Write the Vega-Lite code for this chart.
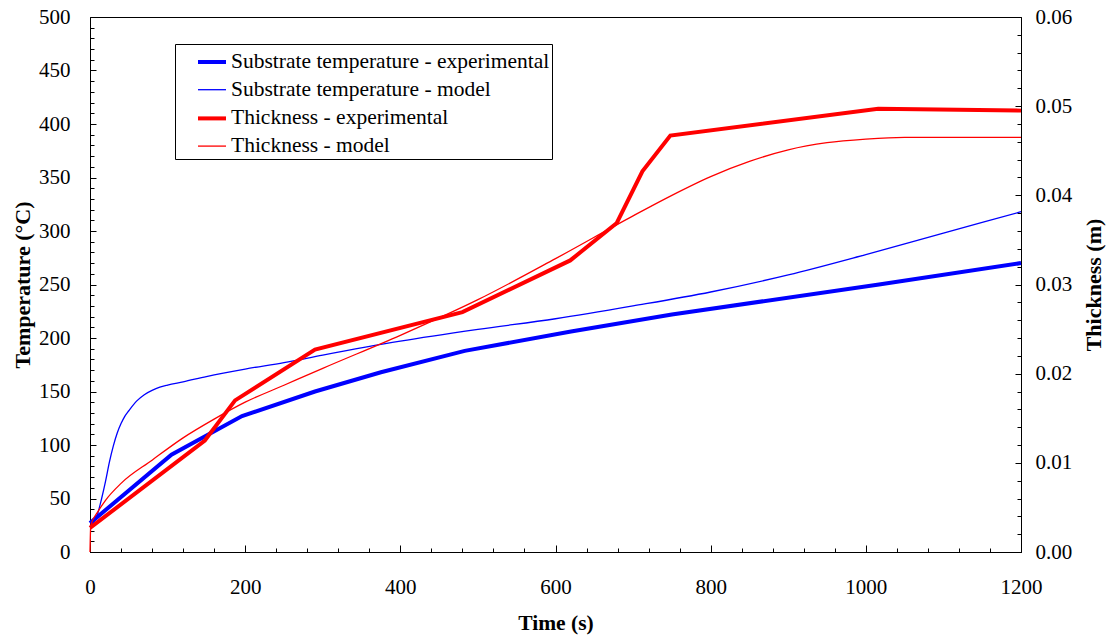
{
  "$schema": "https://vega.github.io/schema/vega-lite/v6.json",
  "width": 931,
  "height": 535,
  "autosize": {"type": "none"},
  "padding": {"left": 90, "top": 17, "right": 89, "bottom": 85},
  "background": "white",
  "config": {
    "font": "Liberation Serif",
    "view": {"stroke": "black", "strokeWidth": 1},
    "axis": {
      "grid": false,
      "domainColor": "black",
      "tickColor": "black",
      "labelColor": "black",
      "titleColor": "black",
      "labelFont": "Liberation Serif",
      "titleFont": "Liberation Serif",
      "labelFontSize": 21,
      "titleFontSize": 22,
      "titleFontWeight": "bold",
      "labelOverlap": false,
      "labelFlush": false
    },
    "legend": {"labelFont": "Liberation Serif"}
  },
  "datasets": {
    "tempExp": [
      {"series": "Substrate temperature - experimental", "t": 0, "v": 27},
      {"series": "Substrate temperature - experimental", "t": 105, "v": 91},
      {"series": "Substrate temperature - experimental", "t": 196, "v": 127},
      {"series": "Substrate temperature - experimental", "t": 290, "v": 150},
      {"series": "Substrate temperature - experimental", "t": 375, "v": 168},
      {"series": "Substrate temperature - experimental", "t": 483, "v": 188},
      {"series": "Substrate temperature - experimental", "t": 620, "v": 206},
      {"series": "Substrate temperature - experimental", "t": 750, "v": 222},
      {"series": "Substrate temperature - experimental", "t": 1017, "v": 250},
      {"series": "Substrate temperature - experimental", "t": 1200, "v": 270}
    ],
    "tempModel": [
      {"series": "Substrate temperature - model", "t": 0, "v": 24},
      {"series": "Substrate temperature - model", "t": 5, "v": 28},
      {"series": "Substrate temperature - model", "t": 10, "v": 36},
      {"series": "Substrate temperature - model", "t": 15, "v": 50},
      {"series": "Substrate temperature - model", "t": 20, "v": 66},
      {"series": "Substrate temperature - model", "t": 25, "v": 84},
      {"series": "Substrate temperature - model", "t": 30, "v": 99},
      {"series": "Substrate temperature - model", "t": 35, "v": 111},
      {"series": "Substrate temperature - model", "t": 40, "v": 120},
      {"series": "Substrate temperature - model", "t": 45, "v": 127},
      {"series": "Substrate temperature - model", "t": 50, "v": 132},
      {"series": "Substrate temperature - model", "t": 60, "v": 141},
      {"series": "Substrate temperature - model", "t": 70, "v": 147},
      {"series": "Substrate temperature - model", "t": 80, "v": 151},
      {"series": "Substrate temperature - model", "t": 90, "v": 154},
      {"series": "Substrate temperature - model", "t": 100, "v": 156},
      {"series": "Substrate temperature - model", "t": 120, "v": 159},
      {"series": "Substrate temperature - model", "t": 150, "v": 164},
      {"series": "Substrate temperature - model", "t": 200, "v": 171},
      {"series": "Substrate temperature - model", "t": 250, "v": 177},
      {"series": "Substrate temperature - model", "t": 300, "v": 184},
      {"series": "Substrate temperature - model", "t": 400, "v": 197},
      {"series": "Substrate temperature - model", "t": 500, "v": 208},
      {"series": "Substrate temperature - model", "t": 600, "v": 218},
      {"series": "Substrate temperature - model", "t": 700, "v": 230},
      {"series": "Substrate temperature - model", "t": 800, "v": 243},
      {"series": "Substrate temperature - model", "t": 900, "v": 259},
      {"series": "Substrate temperature - model", "t": 1000, "v": 278},
      {"series": "Substrate temperature - model", "t": 1100, "v": 298},
      {"series": "Substrate temperature - model", "t": 1200, "v": 318}
    ],
    "thickExp": [
      {"series": "Thickness - experimental", "t": 0, "v": 0.0027},
      {"series": "Thickness - experimental", "t": 148, "v": 0.0125},
      {"series": "Thickness - experimental", "t": 187, "v": 0.0170},
      {"series": "Thickness - experimental", "t": 290, "v": 0.0227},
      {"series": "Thickness - experimental", "t": 480, "v": 0.0269},
      {"series": "Thickness - experimental", "t": 619, "v": 0.0327},
      {"series": "Thickness - experimental", "t": 679, "v": 0.0369},
      {"series": "Thickness - experimental", "t": 712, "v": 0.0427},
      {"series": "Thickness - experimental", "t": 748, "v": 0.0467},
      {"series": "Thickness - experimental", "t": 1016, "v": 0.0497},
      {"series": "Thickness - experimental", "t": 1200, "v": 0.0495}
    ],
    "thickModel": [
      {"series": "Thickness - model", "t": 0, "v": 0},
      {"series": "Thickness - model", "t": 1, "v": 0.003},
      {"series": "Thickness - model", "t": 10, "v": 0.0045},
      {"series": "Thickness - model", "t": 20, "v": 0.0058},
      {"series": "Thickness - model", "t": 40, "v": 0.0077},
      {"series": "Thickness - model", "t": 80, "v": 0.0103},
      {"series": "Thickness - model", "t": 120, "v": 0.0128},
      {"series": "Thickness - model", "t": 160, "v": 0.0149},
      {"series": "Thickness - model", "t": 200, "v": 0.0168},
      {"series": "Thickness - model", "t": 250, "v": 0.0187},
      {"series": "Thickness - model", "t": 300, "v": 0.0206},
      {"series": "Thickness - model", "t": 400, "v": 0.0243},
      {"series": "Thickness - model", "t": 500, "v": 0.0283},
      {"series": "Thickness - model", "t": 600, "v": 0.0329},
      {"series": "Thickness - model", "t": 700, "v": 0.0377},
      {"series": "Thickness - model", "t": 750, "v": 0.0400},
      {"series": "Thickness - model", "t": 800, "v": 0.0421},
      {"series": "Thickness - model", "t": 850, "v": 0.0438},
      {"series": "Thickness - model", "t": 900, "v": 0.0451},
      {"series": "Thickness - model", "t": 950, "v": 0.0459},
      {"series": "Thickness - model", "t": 1000, "v": 0.0463},
      {"series": "Thickness - model", "t": 1050, "v": 0.0465},
      {"series": "Thickness - model", "t": 1100, "v": 0.0465},
      {"series": "Thickness - model", "t": 1200, "v": 0.0465}
    ]
  },
  "encoding": {
    "x": {
      "field": "t",
      "type": "quantitative",
      "scale": {"domain": [0, 1200], "nice": false, "zero": true},
      "axis": {
        "title": "Time (s)",
        "titleFontSize": 21.5,
        "format": "d",
        "values": [0, 40, 80, 120, 160, 200, 240, 280, 320, 360, 400, 440, 480, 520, 560, 600, 640, 680, 720, 760, 800, 840, 880, 920, 960, 1000, 1040, 1080, 1120, 1160, 1200],
        "labelExpr": "datum.value % 200 === 0 ? datum.label : ''",
        "tickSize": {"condition": {"test": "datum.value % 200 === 0", "value": -7}, "value": -4},
        "labelPadding": 31,
        "titlePadding": 12
      }
    },
    "color": {
      "field": "series",
      "type": "nominal",
      "scale": {
        "domain": ["Substrate temperature - experimental", "Substrate temperature - model", "Thickness - experimental", "Thickness - model"],
        "range": ["#0000ff", "#0000ff", "#ff0000", "#ff0000"]
      },
      "legend": {
        "title": null,
        "orient": "none",
        "legendX": 85,
        "legendY": 27,
        "strokeColor": "black",
        "fillColor": "white",
        "padding": 2,
        "symbolType": "stroke",
        "symbolSize": 784,
        "symbolOffset": 19,
        "labelFont": "Liberation Serif",
        "labelFontSize": 21.5,
        "labelColor": "black",
        "labelLimit": 500,
        "labelOffset": 3,
        "rowPadding": 1.7,
        "cornerRadius": 0
      }
    },
    "strokeWidth": {
      "field": "series",
      "type": "nominal",
      "scale": {
        "type": "ordinal",
        "domain": ["Substrate temperature - experimental", "Substrate temperature - model", "Thickness - experimental", "Thickness - model"],
        "range": [4, 1.3, 4, 1.3]
      },
      "legend": {
        "title": null,
        "orient": "none",
        "legendX": 85,
        "legendY": 27,
        "strokeColor": "black",
        "fillColor": "white",
        "padding": 2,
        "symbolType": "stroke",
        "symbolSize": 784,
        "symbolOffset": 19,
        "labelFont": "Liberation Serif",
        "labelFontSize": 21.5,
        "labelColor": "black",
        "labelLimit": 500,
        "labelOffset": 3,
        "rowPadding": 1.7,
        "cornerRadius": 0
      }
    }
  },
  "layer": [
    {
      "encoding": {
        "y": {
          "field": "v",
          "type": "quantitative",
          "scale": {"domain": [0, 500], "nice": false},
          "axis": {
            "title": "Temperature (°C)",
            "orient": "left",
            "values": [0, 10, 20, 30, 40, 50, 60, 70, 80, 90, 100, 110, 120, 130, 140, 150, 160, 170, 180, 190, 200, 210, 220, 230, 240, 250, 260, 270, 280, 290, 300, 310, 320, 330, 340, 350, 360, 370, 380, 390, 400, 410, 420, 430, 440, 450, 460, 470, 480, 490, 500],
            "labelExpr": "datum.value % 50 === 0 ? datum.label : ''",
            "tickSize": {"condition": {"test": "datum.value % 50 === 0", "value": -6}, "value": -4},
            "labelPadding": 26,
            "titlePadding": 4
          }
        }
      },
      "layer": [
        {"data": {"name": "tempExp"}, "mark": {"type": "line"}},
        {"data": {"name": "tempModel"}, "mark": {"type": "line", "interpolate": "monotone"}}
      ]
    },
    {
      "encoding": {
        "y": {
          "field": "v",
          "type": "quantitative",
          "scale": {"domain": [0, 0.06], "nice": false},
          "axis": {
            "title": "Thickness (m)",
            "orient": "right",
            "values": [0, 0.002, 0.004, 0.006, 0.008, 0.01, 0.012, 0.014, 0.016, 0.018, 0.02, 0.022, 0.024, 0.026, 0.028, 0.03, 0.032, 0.034, 0.036, 0.038, 0.04, 0.042, 0.044, 0.046, 0.048, 0.05, 0.052, 0.054, 0.056, 0.058, 0.06],
            "format": ".2f",
            "labelExpr": "round(datum.value * 1000) % 10 === 0 ? datum.label : ''",
            "tickSize": {"condition": {"test": "round(datum.value * 1000) % 10 === 0", "value": -6}, "value": -4},
            "labelPadding": 20,
            "titlePadding": 34,
            "titleAngle": 270
          }
        }
      },
      "layer": [
        {"data": {"name": "thickExp"}, "mark": {"type": "line"}},
        {"data": {"name": "thickModel"}, "mark": {"type": "line", "interpolate": "monotone"}}
      ]
    }
  ],
  "resolve": {"scale": {"y": "independent"}}
}
